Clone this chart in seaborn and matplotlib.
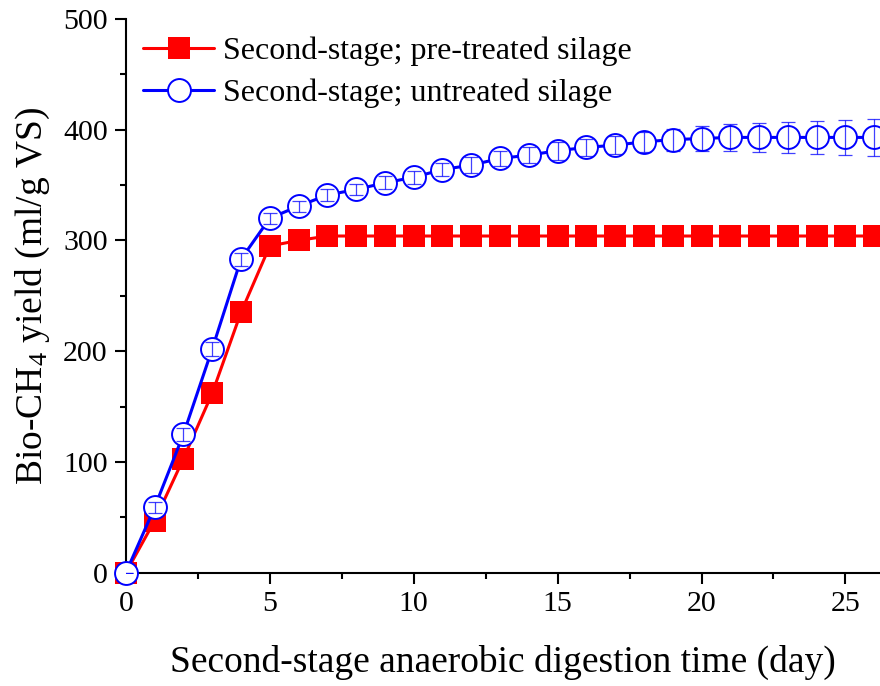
import numpy as np
import pandas as pd
import matplotlib
matplotlib.use("Agg")
import matplotlib.pyplot as plt
import seaborn as sns
from matplotlib.ticker import MultipleLocator

days = list(range(0, 27))

pretreated = [0, 47, 103, 162, 235, 295, 300, 304, 304, 304, 304, 304, 304, 304,
              304, 304, 304, 304, 304, 304, 304, 304, 304, 304, 304, 304, 304]

untreated = [0, 59, 125, 202, 283, 320, 331, 341, 346, 352, 357, 364, 368, 374,
             377, 381, 384, 386, 389, 391, 392, 393, 393, 393, 393, 393, 393]

untreated_err = [0, 5, 6, 6, 6, 5, 5, 5, 5, 6, 6, 6, 7, 7,
                 7, 8, 8, 8, 9, 10, 11, 12, 13, 14, 15, 16, 17]

labels = ["Second-stage; pre-treated silage", "Second-stage; untreated silage"]

sns.set_style("ticks")
plt.rcParams['font.family'] = ['Liberation Serif', 'DejaVu Serif']
plt.rcParams['mathtext.fontset'] = 'custom'
plt.rcParams['mathtext.rm'] = 'Liberation Serif'
plt.rcParams['mathtext.default'] = 'regular'
plt.rcParams['text.color'] = 'black'
plt.rcParams['axes.labelcolor'] = 'black'
plt.rcParams['xtick.color'] = 'black'
plt.rcParams['ytick.color'] = 'black'

df = pd.DataFrame({
    'Day': days,
    'pre': pretreated,
    'un': untreated,
})

fig = plt.figure(figsize=(8.8, 6.86), dpi=100)
ax = fig.add_axes([0.143, 0.165, 0.857, 0.8075])

# red series first, blue on top
sns.lineplot(
    data=df, x='Day', y='pre', ax=ax,
    color='#ff0000', linewidth=2.2,
    marker='s', markersize=15.5, markeredgewidth=0,
    markerfacecolor='#ff0000', label=labels[0],
    clip_on=False, zorder=3
)

sns.lineplot(
    data=df, x='Day', y='un', ax=ax,
    color='#0000ff', linewidth=2.2,
    marker='o', markersize=16.5, markeredgewidth=1.4,
    markerfacecolor='white', markeredgecolor='#0000ff', label=labels[1],
    clip_on=False, zorder=4
)

ax.errorbar(
    days, untreated, yerr=untreated_err, fmt='none',
    ecolor='#0000ff', elinewidth=0.9, capsize=5, capthick=0.9,
    alpha=0.75, zorder=5
)

ax.set_xlim(0, 26.2)
ax.set_ylim(0, 500)

ax.xaxis.set_major_locator(MultipleLocator(5))
ax.xaxis.set_minor_locator(MultipleLocator(2.5))
ax.yaxis.set_major_locator(MultipleLocator(100))
ax.yaxis.set_minor_locator(MultipleLocator(50))

ax.tick_params(which='major', direction='out', length=8, width=1.5,
               labelsize=21.5, pad=5)
ax.tick_params(which='minor', direction='out', length=4.5, width=1.5)

for side in ['top', 'right']:
    ax.spines[side].set_visible(False)
for side in ['left', 'bottom']:
    ax.spines[side].set_linewidth(1.5)
    ax.spines[side].set_color('black')

ax.set_xlabel('Second-stage anaerobic digestion time (day)', fontsize=27, labelpad=20)
ax.set_ylabel(r'Bio-CH$_4$ yield (ml/g VS)', fontsize=27, labelpad=8)

ax.legend(
    loc='upper left', frameon=False, fontsize=23,
    handlelength=2.2, handletextpad=0.3, labelspacing=0.4,
    borderaxespad=0.15, bbox_to_anchor=(0.0, 1.0)
)

fig.savefig('out.png', dpi=100)
